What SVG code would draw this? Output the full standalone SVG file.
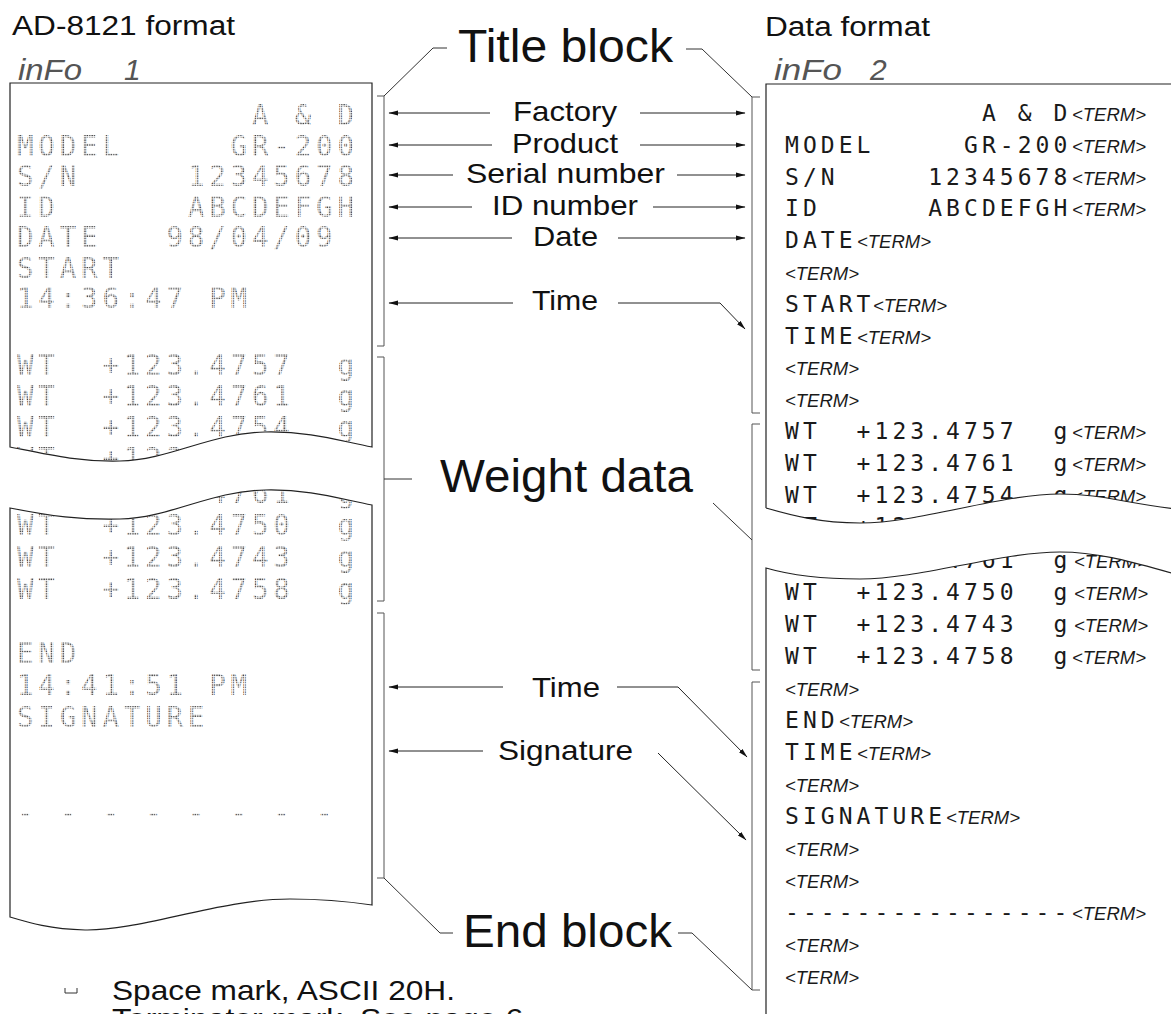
<svg xmlns="http://www.w3.org/2000/svg" width="1171" height="1014" viewBox="0 0 1171 1014">
<defs>
<style>
.dm{font-family:"DejaVu Sans Mono",monospace;font-size:27.5px;letter-spacing:4.8px;fill:url(#dots)}
.mono{font-family:"DejaVu Sans Mono",monospace;font-size:23px;letter-spacing:4.05px;fill:#1a1a1a}
.term{font-family:"Liberation Sans",Arial,sans-serif;font-style:italic;font-size:18.5px;fill:#1a1a1a}
.lbl{font-family:"Liberation Sans",Arial,sans-serif;font-size:28.5px;fill:#111}
.big{font-size:47px}
.hdr{font-size:27px}
.seg{font-family:"Liberation Sans",Arial,sans-serif;font-style:italic;font-size:30px;fill:#555}
.edge{fill:none;stroke:#222;stroke-width:1.2}
.br{fill:none;stroke:#555;stroke-width:1}
.arr{fill:none;stroke:#222;stroke-width:1;marker-end:url(#ah)}
.ln{fill:none;stroke:#333;stroke-width:1}
</style>
<pattern id="dots" width="2.4" height="2.4" patternUnits="userSpaceOnUse"><rect x="0.3" y="0.3" width="1.4" height="1.4" fill="#333"/></pattern>
<marker id="ah" markerWidth="10" markerHeight="6" refX="9" refY="3" orient="auto" markerUnits="userSpaceOnUse"><path d="M0,0.6 L9.5,3 L0,5.4 Z" fill="#111"/></marker>
<clipPath id="ltop"><path d="M10,447 V83 H372 V447 C340,441 310,431 265,432 C210,433 170,460 120,461 C80,462 50,455 10,447 Z"/></clipPath>
<clipPath id="lbot"><path d="M10,508 C50,516 80,520 120,519 C170,518 210,491 265,490 C310,489 340,499 372,505 V905 C345,901 315,899 290,899 C220,899 140,931 85,930 C50,929 30,923 10,917 Z"/></clipPath>
<clipPath id="rtop"><path d="M766,508 V84 H1175 V509 C1120,502 1100,494 1060,494 C1000,494 920,523 860,523 C820,523 790,515 766,508 Z"/></clipPath>
<clipPath id="rbot"><path d="M766,1020 V568 C790,575 820,579 860,579 C920,579 1000,552 1060,552 C1100,552 1135,563 1175,574 V1020 Z"/></clipPath>
</defs>
<rect width="1171" height="1014" fill="#fff"/>

<g id="headers">
<text class="lbl hdr" x="12" y="35" textLength="223" lengthAdjust="spacingAndGlyphs">AD-8121 format</text>
<text class="lbl hdr" x="765" y="36" textLength="165" lengthAdjust="spacingAndGlyphs">Data format</text>
<text class="seg" x="18" y="80" textLength="64" lengthAdjust="spacingAndGlyphs">inFo</text><text class="seg" x="124" y="80">1</text>
<text class="seg" x="774" y="80" textLength="68" lengthAdjust="spacingAndGlyphs">inFo</text><text class="seg" x="870" y="80">2</text>
</g>

<g id="left-paper">
<path class="edge" d="M10,447 V83 H372 V447 C340,441 310,431 265,432 C210,433 170,460 120,461 C80,462 50,455 10,447 Z"/>
<path class="edge" d="M10,508 C50,516 80,520 120,519 C170,518 210,491 265,490 C310,489 340,499 372,505 V905 C345,901 315,899 290,899 C220,899 140,931 85,930 C50,929 30,923 10,917 Z"/>
<g clip-path="url(#ltop)">
<text class="dm" x="252" y="125">A &amp; D</text>
<text class="dm" x="17" y="155.5">MODEL</text><text class="dm" x="230.6" y="155.5">GR-200</text>
<text class="dm" x="17" y="186">S/N</text><text class="dm" x="187.9" y="186">12345678</text>
<text class="dm" x="17" y="216.5">ID</text><text class="dm" x="187.9" y="216.5">ABCDEFGH</text>
<text class="dm" x="17" y="247">DATE</text><text class="dm" x="166.5" y="247">98/04/09</text>
<text class="dm" x="17" y="277.5">START</text>
<text class="dm" x="17" y="308">14:36:47 PM</text>
<text class="dm" x="17" y="375">WT</text><text class="dm" x="102.4" y="375">+123.4757</text><text class="dm" x="337.4" y="375">g</text>
<text class="dm" x="17" y="406">WT</text><text class="dm" x="102.4" y="406">+123.4761</text><text class="dm" x="337.4" y="406">g</text>
<text class="dm" x="17" y="437">WT</text><text class="dm" x="102.4" y="437">+123.4754</text><text class="dm" x="337.4" y="437">g</text>
<text class="dm" x="17" y="468">WT</text><text class="dm" x="102.4" y="468">+123.4759</text><text class="dm" x="337.4" y="468">g</text>
</g>
<g clip-path="url(#lbot)">
<text class="dm" x="17" y="503">WT</text><text class="dm" x="102.4" y="503">+123.4761</text><text class="dm" x="337.4" y="503">g</text>
<text class="dm" x="17" y="535">WT</text><text class="dm" x="102.4" y="535">+123.4750</text><text class="dm" x="337.4" y="535">g</text>
<text class="dm" x="17" y="567">WT</text><text class="dm" x="102.4" y="567">+123.4743</text><text class="dm" x="337.4" y="567">g</text>
<text class="dm" x="17" y="599">WT</text><text class="dm" x="102.4" y="599">+123.4758</text><text class="dm" x="337.4" y="599">g</text>
<text class="dm" x="17" y="663">END</text>
<text class="dm" x="17" y="695">14:41:51 PM</text>
<text class="dm" x="17" y="727">SIGNATURE</text>
<text class="dm" x="17" y="823">- - - - - - - -</text>
</g>
</g>

<g id="right-paper">
<path class="edge" d="M766,508 V84 H1175 M1175,509 C1120,502 1100,494 1060,494 C1000,494 920,523 860,523 C820,523 790,515 766,508"/>
<path class="edge" d="M766,1020 V568 C790,575 820,579 860,579 C920,579 1000,552 1060,552 C1100,552 1135,563 1175,574"/>
<g clip-path="url(#rtop)">
<text class="mono" x="981.9" y="121">A &amp; D</text><text class="term" x="1072" y="121">&lt;TERM&gt;</text>
<text class="mono" x="785" y="152.8">MODEL</text><text class="mono" x="964" y="152.8">GR-200</text><text class="term" x="1072" y="152.8">&lt;TERM&gt;</text>
<text class="mono" x="785" y="184.6">S/N</text><text class="mono" x="928.2" y="184.6">12345678</text><text class="term" x="1072" y="184.6">&lt;TERM&gt;</text>
<text class="mono" x="785" y="216.4">ID</text><text class="mono" x="928.2" y="216.4">ABCDEFGH</text><text class="term" x="1072" y="216.4">&lt;TERM&gt;</text>
<text class="mono" x="785" y="248.2">DATE</text><text class="term" x="857" y="248.2">&lt;TERM&gt;</text>
<text class="term" x="785" y="280">&lt;TERM&gt;</text>
<text class="mono" x="785" y="311.8">START</text><text class="term" x="873" y="311.8">&lt;TERM&gt;</text>
<text class="mono" x="785" y="343.6">TIME</text><text class="term" x="857" y="343.6">&lt;TERM&gt;</text>
<text class="term" x="785" y="375.4">&lt;TERM&gt;</text>
<text class="term" x="785" y="407.2">&lt;TERM&gt;</text>
<text class="mono" x="785" y="439">WT</text><text class="mono" x="856.6" y="439">+123.4757</text><text class="mono" x="1053.5" y="439">g</text><text class="term" x="1072" y="439">&lt;TERM&gt;</text>
<text class="mono" x="785" y="470.8">WT</text><text class="mono" x="856.6" y="470.8">+123.4761</text><text class="mono" x="1053.5" y="470.8">g</text><text class="term" x="1072" y="470.8">&lt;TERM&gt;</text>
<text class="mono" x="785" y="502.6">WT</text><text class="mono" x="856.6" y="502.6">+123.4754</text><text class="mono" x="1053.5" y="502.6">g</text><text class="term" x="1072" y="502.6">&lt;TERM&gt;</text>
<text class="mono" x="785" y="534.4">WT</text><text class="mono" x="856.6" y="534.4">+123.4759</text><text class="mono" x="1053.5" y="534.4">g</text><text class="term" x="1072" y="534.4">&lt;TERM&gt;</text>
</g>
<g clip-path="url(#rbot)">
<text class="mono" x="785" y="568">WT</text><text class="mono" x="856.6" y="568">+123.4761</text><text class="mono" x="1053.5" y="568">g</text><text class="term" x="1074" y="568">&lt;TERM&gt;</text>
<text class="mono" x="785" y="600">WT</text><text class="mono" x="856.6" y="600">+123.4750</text><text class="mono" x="1053.5" y="600">g</text><text class="term" x="1074" y="600">&lt;TERM&gt;</text>
<text class="mono" x="785" y="632">WT</text><text class="mono" x="856.6" y="632">+123.4743</text><text class="mono" x="1053.5" y="632">g</text><text class="term" x="1074" y="632">&lt;TERM&gt;</text>
<text class="mono" x="785" y="664">WT</text><text class="mono" x="856.6" y="664">+123.4758</text><text class="mono" x="1053.5" y="664">g</text><text class="term" x="1072" y="664">&lt;TERM&gt;</text>
<text class="term" x="785" y="696">&lt;TERM&gt;</text>
<text class="mono" x="785" y="728">END</text><text class="term" x="839" y="728">&lt;TERM&gt;</text>
<text class="mono" x="785" y="760">TIME</text><text class="term" x="857" y="760">&lt;TERM&gt;</text>
<text class="term" x="785" y="792">&lt;TERM&gt;</text>
<text class="mono" x="785" y="824">SIGNATURE</text><text class="term" x="946" y="824">&lt;TERM&gt;</text>
<text class="term" x="785" y="856">&lt;TERM&gt;</text>
<text class="term" x="785" y="888">&lt;TERM&gt;</text>
<text class="mono" x="785" y="920">----------------</text><text class="term" x="1072" y="920">&lt;TERM&gt;</text>
<text class="term" x="785" y="952">&lt;TERM&gt;</text>
<text class="term" x="785" y="984">&lt;TERM&gt;</text>
</g>
</g>

<g id="title-block"><text class="lbl big" x="458" y="62" textLength="215" lengthAdjust="spacingAndGlyphs">Title block</text></g>
<g id="weight-data"><text class="lbl big" x="440" y="492" textLength="253" lengthAdjust="spacingAndGlyphs">Weight data</text></g>
<g id="end-block"><text class="lbl big" x="463" y="947" textLength="209" lengthAdjust="spacingAndGlyphs">End block</text></g>
<g id="factory"><text class="lbl" x="513" y="121" textLength="104" lengthAdjust="spacingAndGlyphs">Factory</text></g>
<g id="product"><text class="lbl" x="512" y="153" textLength="106" lengthAdjust="spacingAndGlyphs">Product</text></g>
<g id="serial-number"><text class="lbl" x="466" y="183" textLength="199" lengthAdjust="spacingAndGlyphs">Serial number</text></g>
<g id="id-number"><text class="lbl" x="492" y="215" textLength="146" lengthAdjust="spacingAndGlyphs">ID number</text></g>
<g id="date"><text class="lbl" x="533" y="246" textLength="65" lengthAdjust="spacingAndGlyphs">Date</text></g>
<g id="time-start"><text class="lbl" x="532" y="310" textLength="66" lengthAdjust="spacingAndGlyphs">Time</text></g>
<g id="time-end"><text class="lbl" x="532" y="697" textLength="68" lengthAdjust="spacingAndGlyphs">Time</text></g>
<g id="signature"><text class="lbl" x="498" y="760" textLength="135" lengthAdjust="spacingAndGlyphs">Signature</text></g>

<g id="legend">
<path class="ln" d="M65,988 V993 H77 V988" stroke="#777"/>
<text class="lbl" x="112" y="1000" style="font-size:28px" textLength="343" lengthAdjust="spacingAndGlyphs">Space mark, ASCII 20H.</text>
<text class="lbl" x="112" y="1028" style="font-size:28px" textLength="420" lengthAdjust="spacingAndGlyphs">Terminator mark, See page 6.</text>
</g>

<g id="connectors">
<path class="br" d="M377,96 H384 V346 H377"/>
<path class="br" d="M377,357 H384 V601 H377"/>
<path class="br" d="M377,613 H384 V878 H377"/>
<path class="br" d="M760,97 H752 V413 H760"/>
<path class="br" d="M760,424 H752 V670 H760"/>
<path class="br" d="M760,682 H752 V990 H760"/>
<path class="ln" d="M384,96 L433,48 H447"/>
<path class="ln" d="M686,49 H702 L752,97"/>
<path class="ln" d="M384,479 H412"/>
<path class="ln" d="M713,503 L752,540"/>
<path class="ln" d="M384,878 L440,933 H453"/>
<path class="ln" d="M678,933 H692 L752,990"/>
<path class="arr" d="M490,113 H389"/>
<path class="arr" d="M492,145 H389"/>
<path class="arr" d="M453,175 H389"/>
<path class="arr" d="M472,207 H389"/>
<path class="arr" d="M512,238 H389"/>
<path class="arr" d="M513,303 H389"/>
<path class="arr" d="M503,687 H389"/>
<path class="arr" d="M483,751 H389"/>
<path class="arr" d="M640,113 H745"/>
<path class="arr" d="M640,145 H745"/>
<path class="arr" d="M677,175 H745"/>
<path class="arr" d="M653,207 H745"/>
<path class="arr" d="M618,238 H745"/>
<path class="arr" d="M618,303 H720 L745,329"/>
<path class="arr" d="M617,687 H678 L747,757"/>
<path class="arr" d="M658,753 L746,840"/>
</g>
</svg>
